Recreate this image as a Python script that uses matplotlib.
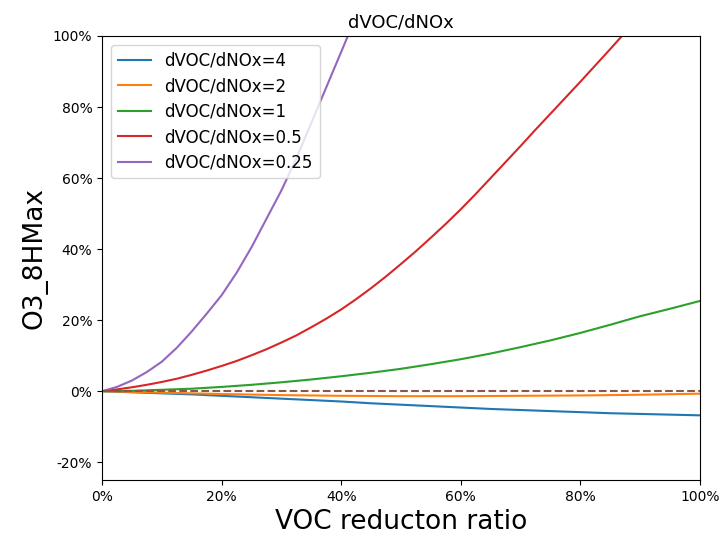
import matplotlib
matplotlib.use("Agg")
import matplotlib.pyplot as plt
from matplotlib.ticker import PercentFormatter

plt.rcParams["axes.unicode_minus"] = False

x_full = [0.0, 0.05, 0.1, 0.15, 0.2, 0.25, 0.3, 0.35, 0.4, 0.45, 0.5,
          0.55, 0.6, 0.65, 0.7, 0.75, 0.8, 0.85, 0.9, 0.95, 1.0]

ratio4 = [0, -0.003, -0.006, -0.009, -0.013, -0.017, -0.021, -0.025, -0.029, -0.034, -0.038,
          -0.042, -0.046, -0.050, -0.053, -0.056, -0.059, -0.062, -0.064, -0.066, -0.068]
ratio2 = [0, -0.002, -0.004, -0.006, -0.008, -0.0095, -0.011, -0.012, -0.013, -0.0135, -0.014,
          -0.014, -0.014, -0.0135, -0.013, -0.0125, -0.012, -0.011, -0.010, -0.0085, -0.007]
ratio1 = [0, 0.001, 0.004, 0.007, 0.012, 0.018, 0.025, 0.033, 0.042, 0.052, 0.063,
          0.076, 0.090, 0.106, 0.124, 0.143, 0.164, 0.187, 0.211, 0.232, 0.254]

x_half = [0.0, 0.025, 0.05, 0.075, 0.1, 0.125, 0.15, 0.175, 0.2, 0.225, 0.25,
          0.275, 0.3, 0.325, 0.35, 0.375, 0.4, 0.425, 0.45, 0.475, 0.5,
          0.525, 0.55, 0.575, 0.6, 0.625, 0.65, 0.675, 0.7, 0.725, 0.75,
          0.775, 0.8, 0.825, 0.85, 0.875, 0.9]
ratio05 = [0, 0.005, 0.011, 0.018, 0.026, 0.035, 0.046, 0.058, 0.071, 0.085, 0.101,
           0.118, 0.137, 0.157, 0.18, 0.204, 0.23, 0.259, 0.29, 0.323, 0.358,
           0.394, 0.432, 0.471, 0.512, 0.555, 0.6, 0.645, 0.69, 0.736, 0.781,
           0.826, 0.871, 0.917, 0.963, 1.01, 1.057]

x_quarter = [0.0, 0.025, 0.05, 0.075, 0.1, 0.125, 0.15, 0.175, 0.2, 0.225, 0.25,
             0.275, 0.3, 0.325, 0.35, 0.375, 0.4, 0.425, 0.45]
ratio025 = [0, 0.012, 0.03, 0.054, 0.083, 0.122, 0.168, 0.218, 0.27, 0.333, 0.405,
            0.485, 0.565, 0.655, 0.755, 0.855, 0.955, 1.055, 1.16]

labels = ["dVOC/dNOx=4", "dVOC/dNOx=2", "dVOC/dNOx=1", "dVOC/dNOx=0.5", "dVOC/dNOx=0.25"]

fig = plt.figure(figsize=(7.26, 5.42), dpi=100)
ax = fig.add_axes([0.1405, 0.1144, 0.8235, 0.8192])

ax.plot(x_full, ratio4, color="C0", label=labels[0])
ax.plot(x_full, ratio2, color="C1", label=labels[1])
ax.plot(x_full, ratio1, color="C2", label=labels[2])
ax.plot(x_half, ratio05, color="C3", label=labels[3])
ax.plot(x_quarter, ratio025, color="C4", label=labels[4])
ax.plot([0, 1], [0, 0], color="C5", linestyle="--")

ax.set_xlim(0, 1)
ax.set_ylim(-0.25, 1.0)
ax.xaxis.set_major_formatter(PercentFormatter(1.0, decimals=0))
ax.yaxis.set_major_formatter(PercentFormatter(1.0, decimals=0))
ax.set_yticks([-0.2, 0, 0.2, 0.4, 0.6, 0.8, 1.0])
ax.set_xticks([0, 0.2, 0.4, 0.6, 0.8, 1.0])

ax.set_title("dVOC/dNOx", fontsize=13)
ax.set_xlabel("VOC reducton ratio", fontsize=19)
ax.set_ylabel("O3_8HMax", fontsize=19)
ax.legend(loc="upper left", fontsize=12, borderaxespad=0.55, labelspacing=0.45)

fig.savefig("out.png", dpi=100)
